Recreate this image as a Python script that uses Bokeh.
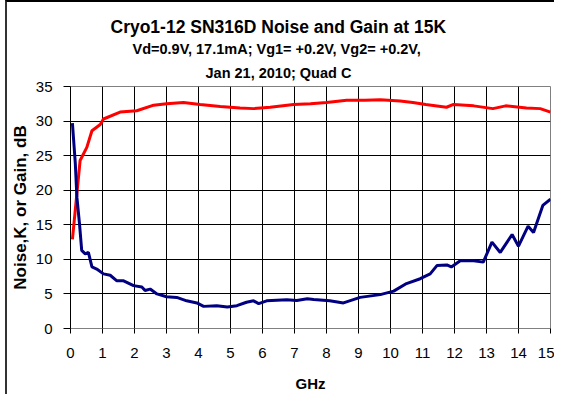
from bokeh.plotting import figure
from bokeh.models import Title, FixedTicker, Range1d
from bokeh.embed import file_html
from bokeh.resources import INLINE

# Gain (dB) vs frequency (GHz)
gain_f = [0.06, 0.3, 0.51, 0.67, 0.93, 1.03, 1.55, 2.07, 2.6, 3.0, 3.53, 4.05, 4.68, 5.3, 5.72, 6.24, 6.97,
          7.5, 8.0, 8.63, 9.2, 9.68, 10.3, 10.7, 11.1, 11.75, 11.97, 12.6, 13.2, 13.6, 14.25, 14.68, 15.0]
gain_db = [12.9, 24.3, 26.2, 28.6, 29.5, 30.3, 31.3, 31.5, 32.3, 32.5, 32.7, 32.4, 32.1, 31.9, 31.8, 32.0, 32.4,
           32.5, 32.7, 33.0, 33.0, 33.1, 32.9, 32.7, 32.4, 32.0, 32.4, 32.2, 31.8, 32.2, 31.9, 31.8, 31.3]

# Noise temperature (K) vs frequency (GHz)
noise_f = [0.06, 0.15, 0.2, 0.28, 0.35, 0.46, 0.56, 0.67, 0.82, 1.03, 1.24, 1.45, 1.66, 1.97, 2.23, 2.33, 2.49,
           2.7, 3.0, 3.32, 3.63, 3.95, 4.16, 4.57, 4.9, 5.2, 5.5, 5.72, 5.88, 6.13, 6.76, 7.07, 7.4, 7.6, 8.1,
           8.53, 9.05, 9.68, 10.1, 10.5, 10.93, 11.24, 11.45, 11.76, 11.9, 12.18, 12.6, 12.9, 13.17, 13.43,
           13.8, 14.0, 14.3, 14.47, 14.76, 15.0]
noise_k = [29.7, 23.9, 19.0, 15.2, 11.3, 10.8, 11.0, 8.9, 8.6, 7.9, 7.7, 6.9, 6.9, 6.2, 6.0, 5.5, 5.7,
           5.0, 4.6, 4.5, 4.0, 3.7, 3.2, 3.3, 3.1, 3.3, 3.8, 4.0, 3.6, 4.0, 4.15, 4.05, 4.3, 4.2, 4.0,
           3.7, 4.5, 4.9, 5.4, 6.5, 7.2, 7.9, 9.1, 9.2, 8.9, 9.8, 9.8, 9.6, 12.5, 11.0,
           13.6, 11.9, 14.8, 13.9, 17.8, 18.7]

x_ticks = list(range(0, 16))
y_ticks = [0, 5, 10, 15, 20, 25, 30, 35]

FONT = "Liberation Sans"

p = figure(frame_width=480, frame_height=242, output_backend="svg", toolbar_location=None,
           x_range=Range1d(0, 15), y_range=Range1d(0, 35),
           min_border_left=56, min_border_right=4, min_border_top=10, min_border_bottom=64)
p.styles = {"border-top": "2px solid #000000", "border-left": "2px solid #333333", "margin-left": "5px"}

p.background_fill_color = "white"
p.border_fill_color = "white"
p.outline_line_color = "#808080"
p.outline_line_width = 1

p.xgrid.ticker = FixedTicker(ticks=x_ticks)
p.ygrid.ticker = FixedTicker(ticks=y_ticks)
p.grid.grid_line_color = "#000000"
p.grid.grid_line_width = 1

p.xaxis.ticker = FixedTicker(ticks=x_ticks)
p.yaxis.ticker = FixedTicker(ticks=y_ticks)
p.xaxis.axis_line_color = "#808080"
p.yaxis.axis_line_color = "#000000"
p.axis.major_tick_line_color = "#000000"
p.axis.minor_tick_line_color = None
p.xaxis.major_tick_out = 5
p.yaxis.major_tick_out = 7
p.axis.major_tick_in = 0
p.axis.major_label_text_font = FONT
p.axis.major_label_text_font_size = "15px"
p.axis.major_label_text_color = "#000000"
p.xaxis.major_label_standoff = 14
p.yaxis.major_label_standoff = 11
p.xaxis.axis_label = "GHz"
p.yaxis.axis_label = "Noise,K, or Gain, dB"
p.axis.axis_label_text_font = FONT
p.axis.axis_label_text_font_style = "bold"
p.xaxis.axis_label_text_font_size = "15px"
p.yaxis.axis_label_text_font_size = "17px"
p.axis.axis_label_text_color = "#000000"
p.xaxis.axis_label_standoff = 14
p.yaxis.axis_label_standoff = 3

p.title.visible = False
t3 = Title(text="Jan 21, 2010; Quad C", align="left", offset=135, text_font=FONT, text_color="#000000",
           text_font_size="14.5px", text_font_style="bold", standoff=11)
t2 = Title(text="Vd=0.9V, 17.1mA; Vg1= +0.2V, Vg2= +0.2V,", align="left", offset=62, text_font=FONT,
           text_color="#000000", text_font_size="14.5px", text_font_style="bold", standoff=1)
t1 = Title(text="Cryo1-12 SN316D Noise and Gain at 15K", align="left", offset=40, text_font=FONT,
           text_color="#000000", text_font_size="17.5px", text_font_style="bold", standoff=3)
spacer = Title(text=" ", text_font_size="7.5px", standoff=0)
p.add_layout(t3, "above")
p.add_layout(t2, "above")
p.add_layout(t1, "above")
p.add_layout(spacer, "above")

p.line(gain_f, gain_db, line_color="#FF0000", line_width=3)
p.line(noise_f, noise_k, line_color="#000080", line_width=3)

open("out.html", "w").write(file_html(p, INLINE))
